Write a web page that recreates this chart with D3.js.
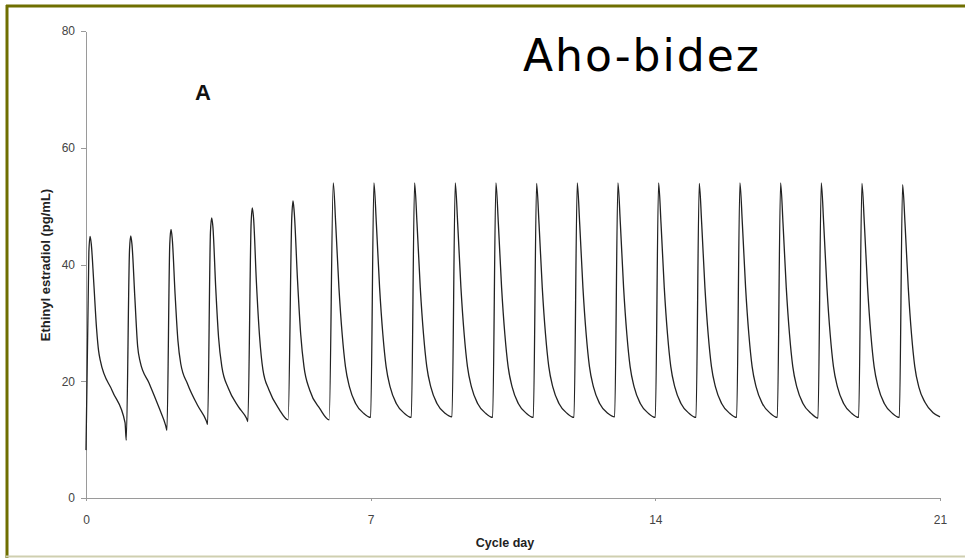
<!DOCTYPE html>
<meta charset="utf-8">
<style>
    body {
        margin: 0;
        background: #fff;
    }

    svg text {
        font-family: 'Liberation Sans', Arial, sans-serif;
    }

    .axis text {
        fill: #444;
        font-size: 12px;
    }

    .axis path,
    .axis line {
        stroke: #9a9a9a;
        shape-rendering: crispEdges;
    }
</style>
<svg width="965" height="558"></svg>
<script src="https://cdn.jsdelivr.net/npm/d3@7"></script>
<script>
    // tick labels
    var xTicks = [0, 7, 14, 21];
    var yTicks = [0, 20, 40, 60, 80];

    // ethinyl estradiol (pg/mL) against cycle day
    var eeProfile = [
        [0.00, 8.2], [0.07, 42.0], [0.10, 44.8], [0.13, 43.5], [0.19, 37.0], [0.26, 29.0], [0.31, 25.2], [0.35, 23.6], [0.65, 18.3], [0.96, 12.9], [0.99, 9.9],
        [1.07, 42.5], [1.10, 44.9], [1.13, 43.5], [1.20, 34.5], [1.27, 26.0], [1.33, 23.4], [1.55, 19.7], [1.80, 15.4], [1.96, 12.4], [1.99, 11.6],
        [2.06, 43.5], [2.09, 46.0], [2.12, 44.5], [2.19, 35.0], [2.26, 27.0], [2.33, 23.0], [2.50, 19.5], [2.75, 15.8], [2.96, 13.2], [2.99, 12.6],
        [3.06, 45.5], [3.09, 48.0], [3.12, 46.5], [3.19, 36.0], [3.26, 27.5], [3.34, 22.5], [3.50, 18.8], [3.75, 15.6], [3.95, 13.6], [3.98, 13.1],
        [4.06, 47.0], [4.09, 49.7], [4.12, 48.0], [4.19, 37.0], [4.27, 27.5], [4.35, 22.0], [4.50, 18.5], [4.75, 15.2], [4.97, 13.4],
        [5.06, 48.0], [5.09, 50.9], [5.12, 49.0], [5.20, 37.5], [5.28, 28.0], [5.36, 22.5], [5.50, 18.5], [5.75, 15.3], [5.98, 13.4],
        [6.08, 54.0], [6.14, 47.0], [6.22, 36.0], [6.30, 28.0], [6.38, 22.5], [6.48, 19.0], [6.63, 16.2], [6.83, 14.5], [7.00, 13.8],
        [7.08, 54.0], [7.14, 47.0], [7.22, 36.0], [7.30, 28.0], [7.38, 22.5], [7.48, 19.0], [7.63, 16.2], [7.83, 14.5], [8.00, 13.8],
        [8.08, 54.0], [8.14, 47.0], [8.22, 36.0], [8.30, 28.0], [8.38, 22.5], [8.48, 19.0], [8.63, 16.2], [8.83, 14.5], [9.00, 13.9],
        [9.08, 54.0], [9.14, 47.0], [9.22, 36.0], [9.30, 28.0], [9.38, 22.5], [9.48, 19.0], [9.63, 16.2], [9.83, 14.5], [10.00, 13.8],
        [10.08, 54.0], [10.14, 47.0], [10.22, 36.0], [10.30, 28.0], [10.38, 22.5], [10.48, 19.0], [10.63, 16.2], [10.83, 14.5], [11.00, 13.8],
        [11.08, 53.9], [11.14, 47.0], [11.22, 36.0], [11.30, 28.0], [11.38, 22.5], [11.48, 19.0], [11.63, 16.2], [11.83, 14.5], [12.00, 13.8],
        [12.08, 54.0], [12.14, 47.0], [12.22, 36.0], [12.30, 28.0], [12.38, 22.5], [12.48, 19.0], [12.63, 16.2], [12.83, 14.5], [13.00, 13.9],
        [13.08, 54.0], [13.14, 47.0], [13.22, 36.0], [13.30, 28.0], [13.38, 22.5], [13.48, 19.0], [13.63, 16.2], [13.83, 14.5], [14.00, 13.8],
        [14.08, 54.0], [14.14, 47.0], [14.22, 36.0], [14.30, 28.0], [14.38, 22.5], [14.48, 19.0], [14.63, 16.2], [14.83, 14.5], [15.00, 13.8],
        [15.08, 53.9], [15.14, 47.0], [15.22, 36.0], [15.30, 28.0], [15.38, 22.5], [15.48, 19.0], [15.63, 16.2], [15.83, 14.5], [16.00, 13.8],
        [16.08, 54.0], [16.14, 47.0], [16.22, 36.0], [16.30, 28.0], [16.38, 22.5], [16.48, 19.0], [16.63, 16.2], [16.83, 14.5], [17.00, 13.8],
        [17.08, 54.0], [17.14, 47.0], [17.22, 36.0], [17.30, 28.0], [17.38, 22.5], [17.48, 19.0], [17.63, 16.2], [17.83, 14.5], [18.00, 13.7],
        [18.08, 54.0], [18.14, 47.0], [18.22, 36.0], [18.30, 28.0], [18.38, 22.5], [18.48, 19.0], [18.63, 16.2], [18.83, 14.5], [19.00, 13.8],
        [19.08, 53.9], [19.14, 47.0], [19.22, 36.0], [19.30, 28.0], [19.38, 22.5], [19.48, 19.0], [19.63, 16.2], [19.83, 14.5], [20.00, 13.8],
        [20.08, 53.7], [20.14, 47.0], [20.22, 36.0], [20.30, 28.0], [20.38, 22.5], [20.48, 19.0], [20.63, 16.4], [20.83, 14.6], [21.00, 13.9]
    ];

    var svg = d3.select("svg");

    var x = d3.scaleLinear().domain([0, 21]).range([86, 940]);
    var y = d3.scaleLinear().domain([0, 80]).range([498, 31]);

    // slide frame
    svg.append("line").attr("x1", 6).attr("x2", 965).attr("y1", 6).attr("y2", 6)
        .attr("stroke", "#6f6f00").attr("stroke-width", 3);
    svg.append("line").attr("x1", 7).attr("x2", 7).attr("y1", 5).attr("y2", 558)
        .attr("stroke", "#6f6f00").attr("stroke-width", 3);
    svg.append("line").attr("x1", 6).attr("x2", 965).attr("y1", 556.5).attr("y2", 556.5)
        .attr("stroke", "#cfcfb0").attr("stroke-width", 2);

    svg.append("g")
        .attr("class", "axis")
        .attr("transform", "translate(" + x(0) + ",0)")
        .call(d3.axisLeft(y).tickValues(yTicks).tickSize(5).tickSizeOuter(0).tickPadding(6));

    svg.append("g")
        .attr("class", "axis")
        .attr("transform", "translate(0," + y(0) + ")")
        .call(d3.axisBottom(x).tickValues(xTicks).tickSize(3).tickSizeOuter(0).tickPadding(14));

    var line = d3.line()
        .x(function (d) { return x(d[0]); })
        .y(function (d) { return y(d[1]); })
        .curve(d3.curveMonotoneX);

    svg.append("path")
        .datum(eeProfile)
        .attr("fill", "none")
        .attr("stroke", "#222")
        .attr("stroke-width", 1.3)
        .attr("d", line);

    svg.append("text")
        .attr("transform", "translate(50,265) rotate(-90)")
        .attr("text-anchor", "middle")
        .attr("font-size", 13)
        .attr("font-weight", "bold")
        .attr("fill", "#222")
        .text("Ethinyl estradiol (pg/mL)");

    svg.append("text")
        .attr("x", 505)
        .attr("y", 547)
        .attr("text-anchor", "middle")
        .attr("font-size", 12.5)
        .attr("font-weight", "bold")
        .attr("fill", "#222")
        .text("Cycle day");

    svg.append("text")
        .attr("x", 195)
        .attr("y", 100)
        .attr("font-size", 22)
        .attr("font-weight", "bold")
        .attr("fill", "#111")
        .text("A");

    svg.append("text")
        .attr("x", 523)
        .attr("y", 71)
        .style("font-family", "'DejaVu Sans', Verdana, sans-serif")
        .style("letter-spacing", "2px")
        .attr("font-size", 44)
        .attr("fill", "#000")
        .text("Aho-bidez");
</script>
